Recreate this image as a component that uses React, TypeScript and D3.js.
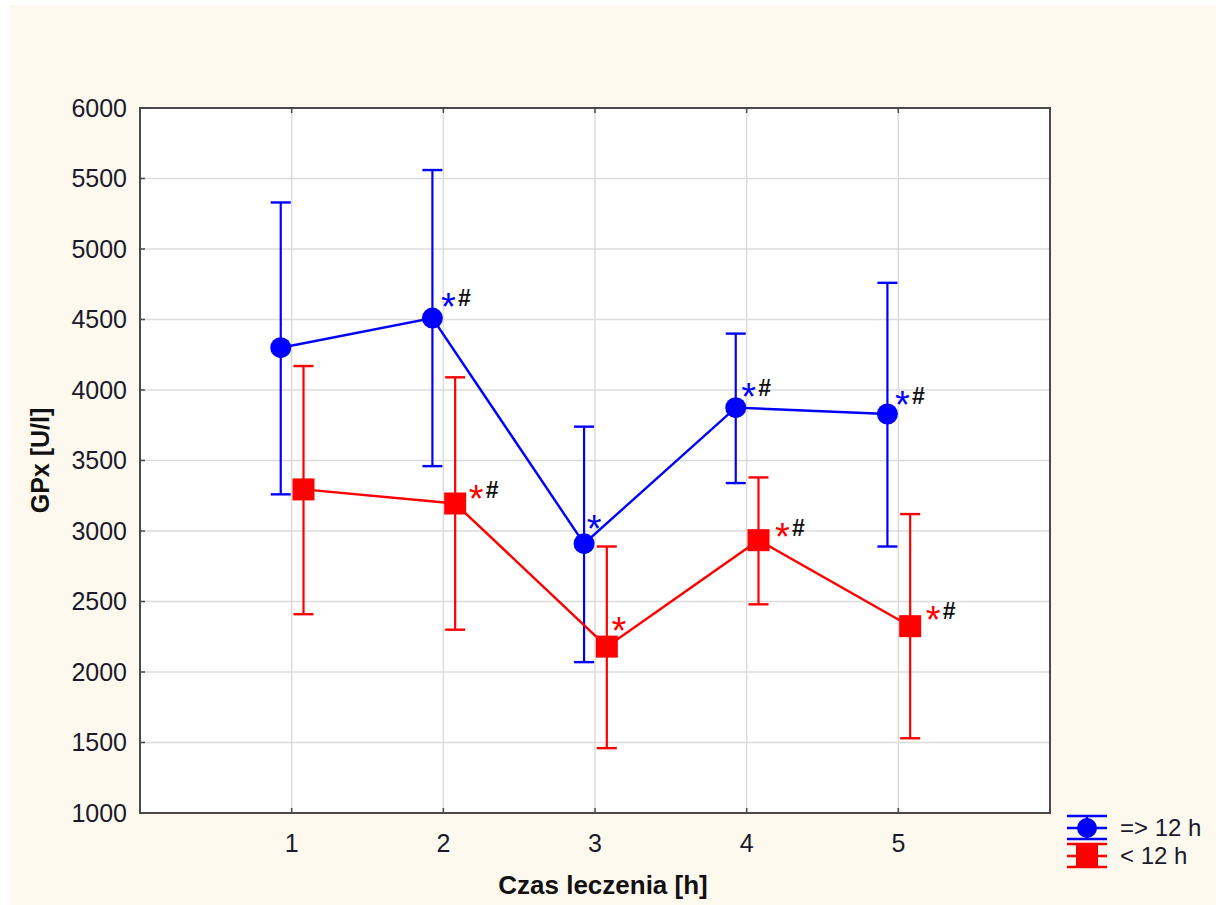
import React from 'react';
import * as d3 from 'd3';

// chart values
const times = [1, 2, 3, 4, 5];
const yTicks = [1000, 1500, 2000, 2500, 3000, 3500, 4000, 4500, 5000, 5500, 6000];

const longMean = [4300, 4510, 2910, 3875, 3830];
const longUpper = [5330, 5560, 3740, 4400, 4760];
const longLower = [3260, 3460, 2070, 3340, 2890];
const longMarks = ['', '*#', '*', '*#', '*#'];

const shortMean = [3295, 3195, 2180, 2935, 2325];
const shortUpper = [4170, 4090, 2890, 3380, 3120];
const shortLower = [2410, 2300, 1460, 2480, 1530];
const shortMarks = ['', '*#', '*', '*#', '*#'];

const W = 1216;
const H = 905;
const margin = { left: 140, top: 108, right: 1050, bottom: 813 };

const App = () => {
  const x = d3.scaleLinear().domain([0, 6]).range([margin.left, margin.right]);
  const y = d3.scaleLinear().domain([1000, 6000]).range([margin.bottom, margin.top]);

  // mdx/mdy: where the asterisk sits relative to its marker (pixels)
  const series = [
    { name: '=> 12 h', color: '#0000ff', shape: 'circle', shift: -0.072, mean: longMean, hi: longUpper, lo: longLower, marks: longMarks, mdx: [16, 16, 10, 13, 15], mdy: [-20, -20, -24, -20, -18] },
    { name: '< 12 h', color: '#ff0000', shape: 'square', shift: 0.078, mean: shortMean, hi: shortUpper, lo: shortLower, marks: shortMarks, mdx: [21, 21, 12, 24, 23], mdy: [-14, -14, -25, -12, -15] },
  ];

  const font = 'Arial, "Liberation Sans", sans-serif';
  const txt = '#1a1a2a';

  return (
    <svg width={W} height={H} style={{ position: 'absolute', left: 0, top: 0, fontFamily: font }}>
      <rect x={0} y={0} width={W} height={H} fill="#ffffff" />
      <rect x={10} y={5} width={W - 10} height={H - 5} fill="#fef9ef" />
      <rect x={margin.left} y={margin.top} width={margin.right - margin.left} height={margin.bottom - margin.top} fill="#ffffff" />

      {/* grid */}
      {yTicks.map(t => (
        <line key={'gy' + t} x1={margin.left} x2={margin.right} y1={y(t)} y2={y(t)} stroke="#dcdcdc" strokeWidth={1.5} />
      ))}
      {times.map(t => (
        <line key={'gx' + t} x1={x(t)} x2={x(t)} y1={margin.top} y2={margin.bottom} stroke="#dcdcdc" strokeWidth={1.5} />
      ))}

      {/* frame */}
      <rect x={margin.left} y={margin.top} width={margin.right - margin.left} height={margin.bottom - margin.top} fill="none" stroke="#4a4a4a" strokeWidth={2} />

      {/* ticks + labels */}
      {yTicks.map(t => (
        <g key={'ty' + t}>
          <line x1={margin.left} x2={margin.left + 5} y1={y(t)} y2={y(t)} stroke="#4a4a4a" strokeWidth={1.5} />
          <text x={margin.left - 13} y={y(t)} dy="0.35em" textAnchor="end" fontSize={25} fill={txt}>{t}</text>
        </g>
      ))}
      {times.map(t => (
        <g key={'tx' + t}>
          <line x1={x(t)} x2={x(t)} y1={margin.bottom} y2={margin.bottom - 5} stroke="#4a4a4a" strokeWidth={1.5} />
          <line x1={x(t)} x2={x(t)} y1={margin.top} y2={margin.top + 5} stroke="#4a4a4a" strokeWidth={1.5} />
          <text x={x(t)} y={margin.bottom + 39} textAnchor="middle" fontSize={25} fill={txt}>{t}</text>
        </g>
      ))}

      <text x={(margin.left + margin.right) / 2 + 8} y={894} textAnchor="middle" fontSize={26} fontWeight="bold" fill="#111">Czas leczenia [h]</text>
      <text transform={`translate(49,${(margin.top + margin.bottom) / 2}) rotate(-90)`} textAnchor="middle" fontSize={25} fontWeight="bold" fill="#111">GPx [U/l]</text>

      {/* series */}
      {series.map(s => {
        const px = (i: number) => x(times[i] + s.shift);
        return (
          <g key={s.name}>
            <path
              d={d3.line<number>().x((_, i) => px(i)).y(d => y(d))(s.mean) || ''}
              fill="none" stroke={s.color} strokeWidth={2.4}
            />
            {s.mean.map((m, i) => (
              <g key={i}>
                <line x1={px(i)} x2={px(i)} y1={y(s.hi[i])} y2={y(s.lo[i])} stroke={s.color} strokeWidth={2.2} />
                <line x1={px(i) - 10} x2={px(i) + 10} y1={y(s.hi[i])} y2={y(s.hi[i])} stroke={s.color} strokeWidth={2.4} />
                <line x1={px(i) - 10} x2={px(i) + 10} y1={y(s.lo[i])} y2={y(s.lo[i])} stroke={s.color} strokeWidth={2.4} />
                {s.shape === 'circle'
                  ? <circle cx={px(i)} cy={y(m)} r={10.5} fill={s.color} />
                  : <rect x={px(i) - 11} y={y(m) - 11} width={22} height={22} fill={s.color} />}
                {s.marks[i] && (
                  <g>
                    <text x={px(i) + s.mdx[i]} y={y(m) + s.mdy[i] + 22} textAnchor="middle" fontSize={38} fill={s.color}>*</text>
                    {s.marks[i].includes('#') && (
                      <text x={px(i) + s.mdx[i] + 16} y={y(m) + s.mdy[i] + 8} textAnchor="middle" fontSize={23} fontWeight="bold" fill="#111">#</text>
                    )}
                  </g>
                )}
              </g>
            ))}
          </g>
        );
      })}

      {/* legend */}
      {series.map((s, k) => {
        const cy = 828 + k * 28;
        const lx = 1087;
        return (
          <g key={'lg' + s.name}>
            <line x1={lx - 20} x2={lx + 20} y1={cy - 12} y2={cy - 12} stroke={s.color} strokeWidth={2.5} />
            <line x1={lx - 20} x2={lx + 20} y1={cy + 11} y2={cy + 11} stroke={s.color} strokeWidth={2.5} />
            <line x1={lx - 20} x2={lx + 20} y1={cy} y2={cy} stroke={s.color} strokeWidth={2.5} />
            <line x1={lx} x2={lx} y1={cy - 12} y2={cy + 11} stroke={s.color} strokeWidth={2.5} />
            {s.shape === 'circle'
              ? <circle cx={lx} cy={cy} r={10} fill={s.color} />
              : <rect x={lx - 11} y={cy - 11} width={22} height={22} fill={s.color} />}
            <text x={lx + 33} y={cy} dy="0.35em" fontSize={24} fill={txt}>{s.name}</text>
          </g>
        );
      })}
    </svg>
  );
};

export default App;
